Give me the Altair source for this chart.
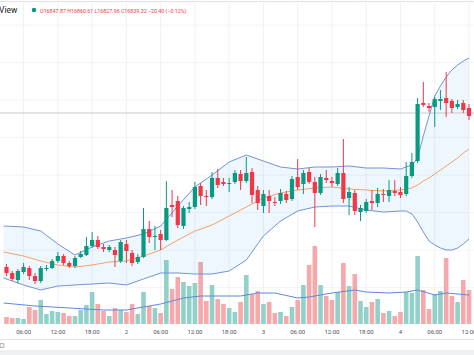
import altair as alt
import pandas as pd

# ---------------- data ----------------
hours = list(range(3, 85))
opens = [16516, 16504, 16490, 16506, 16514, 16498, 16488, 16512, 16514, 16528,
         16538, 16524, 16518, 16536, 16540, 16558, 16570, 16556, 16550, 16550,
         16528, 16562, 16544, 16526, 16536, 16592, 16576, 16582, 16570, 16640,
         16648, 16598, 16632, 16636, 16678, 16658, 16656, 16694, 16686, 16682,
         16686, 16702, 16688, 16706, 16670, 16638, 16658, 16646, 16648, 16662,
         16652, 16696, 16682, 16706, 16686, 16664, 16694, 16688, 16682, 16704,
         16654, 16664, 16626, 16628, 16648, 16644, 16662, 16658, 16668, 16666,
         16662, 16698, 16728, 16844, 16838, 16836, 16848, 16854, 16848, 16836,
         16844, 16834]
highs = [16522, 16508, 16512, 16524, 16518, 16504, 16518, 16520, 16532, 16546,
         16542, 16528, 16538, 16548, 16576, 16586, 16578, 16562, 16560, 16556,
         16570, 16570, 16550, 16542, 16634, 16608, 16598, 16590, 16688, 16670,
         16658, 16638, 16646, 16686, 16684, 16670, 16706, 16712, 16694, 16694,
         16710, 16710, 16736, 16714, 16678, 16670, 16670, 16656, 16672, 16668,
         16698, 16732, 16710, 16714, 16696, 16702, 16710, 16696, 16714, 16772,
         16676, 16670, 16640, 16652, 16670, 16674, 16672, 16690, 16690, 16676,
         16726, 16744, 16854, 16886, 16844, 16856, 16870, 16906, 16852, 16850,
         16850, 16842]
lows = [16498, 16488, 16484, 16502, 16490, 16482, 16484, 16508, 16512, 16524,
        16520, 16514, 16514, 16534, 16538, 16554, 16552, 16546, 16546, 16516,
        16524, 16524, 16518, 16522, 16534, 16564, 16550, 16550, 16568, 16616,
        16594, 16592, 16624, 16632, 16640, 16638, 16652, 16674, 16678, 16666,
        16682, 16670, 16684, 16644, 16630, 16624, 16624, 16638, 16642, 16644,
        16648, 16670, 16662, 16682, 16596, 16660, 16684, 16676, 16678, 16644,
        16620, 16620, 16608, 16624, 16630, 16636, 16646, 16646, 16658, 16654,
        16658, 16694, 16724, 16836, 16826, 16796, 16830, 16816, 16824, 16832,
        16824, 16810]
closes = [16504, 16492, 16508, 16516, 16498, 16488, 16514, 16514, 16528, 16538,
          16524, 16518, 16534, 16542, 16558, 16570, 16556, 16552, 16556, 16540,
          16566, 16548, 16524, 16536, 16592, 16576, 16578, 16570, 16634, 16636,
          16600, 16634, 16636, 16676, 16658, 16656, 16694, 16680, 16682, 16684,
          16704, 16688, 16704, 16660, 16644, 16662, 16648, 16644, 16664, 16650,
          16692, 16676, 16704, 16686, 16664, 16696, 16690, 16684, 16704, 16652,
          16666, 16628, 16634, 16646, 16644, 16662, 16660, 16670, 16664, 16660,
          16698, 16726, 16842, 16840, 16834, 16852, 16852, 16844, 16834, 16842,
          16830, 16818]
volumes = [700, 600, 600, 500, 1700, 1400, 2400, 1000, 1300, 1200,
           1100, 800, 800, 1400, 1900, 3200, 2000, 1300, 800, 1600,
           1400, 1200, 2000, 1000, 3200, 1800, 1600, 1100, 6400, 3500,
           4700, 4200, 3800, 4100, 6200, 2300, 3900, 2500, 2000, 1600,
           1200, 2200, 4900, 3000, 3300, 2000, 2200, 1100, 1200, 800,
           1700, 2400, 3900, 5900, 7800, 3900, 2800, 2400, 3200, 6100,
           3800, 5000, 2300, 1700, 2200, 2500, 1100, 1300, 800, 1200,
           3200, 3100, 6800, 3400, 1500, 3000, 3300, 6600, 2800, 2200,
           4400, 3400]

band_h = [2.5, 6, 9, 12, 15, 18, 21, 24, 27, 30, 33, 36, 39, 42, 45, 48, 51, 54,
          57, 60, 63, 66, 69, 72, 73, 74, 75, 76, 77, 78, 79, 80, 81, 82, 83, 84]
bb_upper = [16598, 16596, 16588, 16562, 16540, 16556, 16568, 16574, 16582, 16598,
            16638, 16676, 16700, 16726, 16740, 16728, 16716, 16712, 16716, 16716,
            16718, 16714, 16714, 16712, 16716, 16720, 16734, 16778, 16818, 16858,
            16878, 16896, 16910, 16920, 16928, 16934]
bb_basis = [16546, 16538, 16528, 16520, 16516, 16520, 16526, 16528, 16538, 16550,
            16570, 16588, 16600, 16618, 16636, 16654, 16664, 16670, 16674, 16676,
            16672, 16670, 16668, 16670, 16672, 16674, 16680, 16688, 16694, 16702,
            16710, 16718, 16726, 16734, 16744, 16752]
bb_lower = [16494, 16480, 16470, 16478, 16480, 16482, 16484, 16480, 16492, 16504,
            16504, 16502, 16502, 16508, 16530, 16578, 16608, 16628, 16636, 16638,
            16638, 16630, 16626, 16628, 16628, 16622, 16606, 16586, 16568, 16560,
            16554, 16550, 16550, 16554, 16562, 16572]

vma_h = [2.5, 8, 14, 20, 24, 27, 30, 34, 37, 40, 44, 47, 50, 54, 56, 58, 60, 64,
         66, 70, 73, 75, 78, 80, 84]
vol_ma = [2100, 1800, 1600, 1400, 1400, 1700, 2000, 2600, 2800, 2800, 2800, 3100,
          3100, 2600, 2700, 2900, 3100, 3400, 3200, 3100, 3200, 3400, 2900, 3100, 2900]

tick_h = [6, 12, 18, 24, 30, 36, 42, 48, 54, 60, 66, 72, 78, 84]
tick_labels = ["06:00", "12:00", "18:00", "2", "06:00", "12:00", "18:00", "3",
               "06:00", "12:00", "18:00", "4", "06:00", "12:00"]

grid_prices = [17000, 16925, 16850, 16775, 16700, 16625, 16550, 16475]
ref_price = [16824]

legend_name = "View"
legend_ohlc = "O16847.87 H16860.61 L16827.96 C16839.32 \u221220.40 (\u22120.12%)"

# ---------------- chart ----------------
W, H = 474, 355
FONT = "Roboto"
GREEN, RED = "#089981", "#f23645"
VGREEN, VRED = "#92d1c9", "#f6a8aa"

xs = alt.Scale(domain=[2.743, 84.0], nice=False, zero=False)
ps = alt.Scale(domain=[16340, 17050], nice=False, zero=False)
vs = alt.Scale(domain=[0, 10000], range=[324, 224], nice=False)

X = alt.X("hour:Q", scale=xs, axis=None)

def PY(field):
    return alt.Y(f"{field}:Q", scale=ps, axis=None)

candles = pd.DataFrame({"hour": hours, "open": opens, "high": highs,
                        "low": lows, "close": closes, "volume": volumes})
bands = pd.DataFrame({"hour": band_h, "upper": bb_upper, "basis": bb_basis, "lower": bb_lower})
vma = pd.DataFrame({"hour": vma_h, "vma": vol_ma})
ticks = pd.DataFrame({"hour": tick_h, "label": tick_labels})
one = pd.DataFrame({"k": [0]})

up = alt.datum.close >= alt.datum.open

grid_v = alt.Chart(ticks).mark_rule(color="#eff1f5", strokeWidth=1).encode(
    x=X, y=alt.value(3), y2=alt.value(326))
grid_h = alt.Chart(pd.DataFrame({"price": grid_prices})).mark_rule(
    color="#f2f4f8", strokeWidth=1).encode(y=PY("price"), x=alt.value(0), x2=alt.value(W))

vol = alt.Chart(candles).mark_bar(size=4.6).encode(
    x=X, y=alt.Y("volume:Q", scale=vs, axis=None),
    color=alt.condition(up, alt.value(VGREEN), alt.value(VRED)))
vol_line = alt.Chart(vma).mark_line(color="#5f88d8", strokeWidth=1).encode(
    x=X, y=alt.Y("vma:Q", scale=vs, axis=None))

bb_fill = alt.Chart(bands).mark_area(color="#2196f3", opacity=0.075).encode(
    x=X, y=PY("upper"), y2=alt.Y2("lower"))
bb_up = alt.Chart(bands).mark_line(color="#7392d8", strokeWidth=1).encode(x=X, y=PY("upper"))
bb_lo = alt.Chart(bands).mark_line(color="#7392d8", strokeWidth=1).encode(x=X, y=PY("lower"))
bb_mid = alt.Chart(bands).mark_line(color="#f4a266", strokeWidth=1).encode(x=X, y=PY("basis"))

ref_line = alt.Chart(pd.DataFrame({"price": ref_price})).mark_rule(
    color="#c6c8ce", strokeWidth=1).encode(y=PY("price"), x=alt.value(0), x2=alt.value(W))

wick = alt.Chart(candles).mark_rule(strokeWidth=1).encode(
    x=X, y=PY("low"), y2=alt.Y2("high"),
    color=alt.condition(up, alt.value(GREEN), alt.value(RED)))
body = alt.Chart(candles).mark_bar(size=4.2).encode(
    x=X, y=PY("open"), y2=alt.Y2("close"),
    color=alt.condition(up, alt.value(GREEN), alt.value(RED)))

labels = alt.Chart(ticks).mark_text(font=FONT, fontSize=6, color="#4e515a",
                                    baseline="middle", align="center").encode(
    x=X, y=alt.value(332), text="label:N")

top_line = alt.Chart(one).mark_rule(color="#e0e3eb", strokeWidth=1).encode(
    x=alt.value(0), x2=alt.value(W), y=alt.value(1.5))
name_txt = alt.Chart(pd.DataFrame({"t": [legend_name]})).mark_text(
    font=FONT, fontSize=8.5, color="#131722", align="left", baseline="middle").encode(
    x=alt.value(-1), y=alt.value(10), text="t:N")
dot = alt.Chart(one).mark_circle(size=20, color=GREEN, opacity=1).encode(
    x=alt.value(34), y=alt.value(10))
ohlc_txt = alt.Chart(pd.DataFrame({"t": [legend_ohlc]})).mark_text(
    font=FONT, fontSize=5.3, color="#f23645", align="left", baseline="middle").encode(
    x=alt.value(40), y=alt.value(10.5), text="t:N")

bottom_line = alt.Chart(one).mark_rule(color="#e0e3eb", strokeWidth=1).encode(
    x=alt.value(0), x2=alt.value(W), y=alt.value(339.5))
strip = alt.Chart(one).mark_rect(color="#eef0f4").encode(
    x=alt.value(0), x2=alt.value(W), y=alt.value(350), y2=alt.value(355))
icon = alt.Chart(one).mark_point(shape="square", size=14, filled=False,
                                 color="#6a6d78", strokeWidth=0.8).encode(
    x=alt.value(2), y=alt.value(345.5))

chart = alt.layer(
    grid_h, grid_v, vol, vol_line, bb_fill, ref_line, bb_up, bb_lo, bb_mid,
    wick, body, labels, top_line, name_txt, dot, ohlc_txt, bottom_line, strip, icon
).resolve_scale(y="independent").properties(
    width=W, height=H, padding=0, background="white",
    autosize=alt.AutoSizeParams(type="none")
).configure_view(stroke=None)

chart.save("out.html", embed_options={"renderer": "svg", "actions": False})
